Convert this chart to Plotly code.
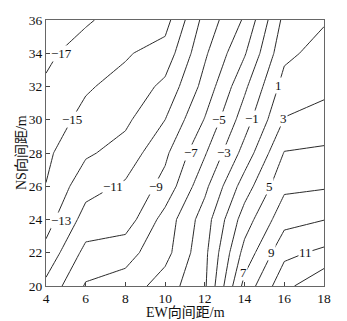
import plotly.graph_objects as go

# grid coordinates
ew = [4, 6, 8, 10, 12, 14, 16, 18]
ns = [20, 22, 24, 26, 28, 30, 32, 34, 36]

# field values (rows: NS, cols: EW)
z_ns20 = [-10.5, -6.8, -6.2, -4.0, -1.3, 7.7, 12.4, 14.74]
z_ns22 = [-12.4, -8.4, -7.7, -5.7, -1.5, 5.7, 10.5, 11.43]
z_ns24 = [-13.83, -10.25, -10.06, -6.2, -2.0, 4.0, 8.3, 8.95]
z_ns26 = [-14.95, -11.7, -10.7, -8.35, -3.5, 2.0, 6.57, 6.8]
z_ns28 = [-15.4, -13.3, -12.2, -9.4, -5.2, -0.25, 5.1, 5.4]
z_ns30 = [-15.9, -14.5, -13.4, -11.0, -6.88, -1.94, 3.1, 3.6]
z_ns32 = [-16.8, -15.2, -14.4, -12.5, -8.3, -3.4, 1.8, 2.6]
z_ns34 = [-17.3, -16.3, -15.2, -14.2, -9.3, -5.2, 0.5, 1.8]
z_ns36 = [-17.7, -17.2, -16.3, -15.77, -10.29, -6.73, -0.43, 0.8]

x_ticks = [4, 6, 8, 10, 12, 14, 16, 18]
y_ticks = [20, 22, 24, 26, 28, 30, 32, 34, 36]

# contour labels as placed in the picture
label_level = [-17, -15, -13, -11, -9, -7, -5, -3, -1, 1, 3, 5, 7, 9, 11]
label_ew = [4.79, 5.33, 4.74, 7.36, 9.54, 11.29, 12.71, 12.94, 14.35, 15.73, 15.96, 15.28, 13.94, 15.38, 17.07]
label_ns = [34.0, 30.04, 23.94, 25.96, 25.96, 28.06, 30.02, 28.06, 30.08, 32.04, 30.1, 26.0, 20.8, 22.0, 22.0]

x_title = "EW向间距/m"
y_title = "NS向间距/m"

Z = [z_ns20, z_ns22, z_ns24, z_ns26, z_ns28, z_ns30, z_ns32, z_ns34, z_ns36]

FONT = "Liberation Serif, Times New Roman, Noto Sans CJK SC, serif"
TXT = "#111"

fig = go.Figure(go.Contour(
    x=ew, y=ns, z=Z,
    contours=dict(start=-17, end=13, size=2, coloring="lines", showlabels=False),
    line=dict(width=1, smoothing=0),
    colorscale=[[0, "#2a2a2a"], [1, "#2a2a2a"]],
    showscale=False,
    hoverinfo="skip",
))

for lv, lx, ly in zip(label_level, label_ew, label_ns):
    fig.add_annotation(
        x=lx, y=ly, xref="x", yref="y",
        text=f"{lv:g}".replace("-", "\u2212"),
        showarrow=False,
        font=dict(family=FONT, size=13, color=TXT),
        bgcolor="white", borderpad=0,
    )

# axis titles
fig.add_annotation(x=0.5, y=0, xref="paper", yref="paper", yanchor="middle",
                   yshift=-26, text=x_title, showarrow=False,
                   font=dict(family=FONT, size=14, color=TXT))
fig.add_annotation(x=0, y=0.5, xref="paper", yref="paper", xanchor="center",
                   xshift=-25, textangle=-90, text=y_title, showarrow=False,
                   font=dict(family=FONT, size=14, color=TXT))

axis_common = dict(
    showline=True, linecolor="#666", linewidth=1, mirror=True,
    ticks="inside", ticklen=4, tickcolor="#444",
    showgrid=False, zeroline=False, automargin=False,
    tickfont=dict(family=FONT, size=13.5, color=TXT),
)

fig.update_xaxes(range=[4, 18], tickvals=x_ticks, **axis_common)
fig.update_yaxes(range=[20, 36], tickvals=y_ticks, **axis_common)

# the page body adds an 8px offset; size the figure so the plot lands where the reference has it
fig.update_layout(
    width=339, height=313,
    margin=dict(l=38, r=23, t=12, b=35),
    paper_bgcolor="white", plot_bgcolor="white",
    showlegend=False,
)

fig.write_html("out.html")
